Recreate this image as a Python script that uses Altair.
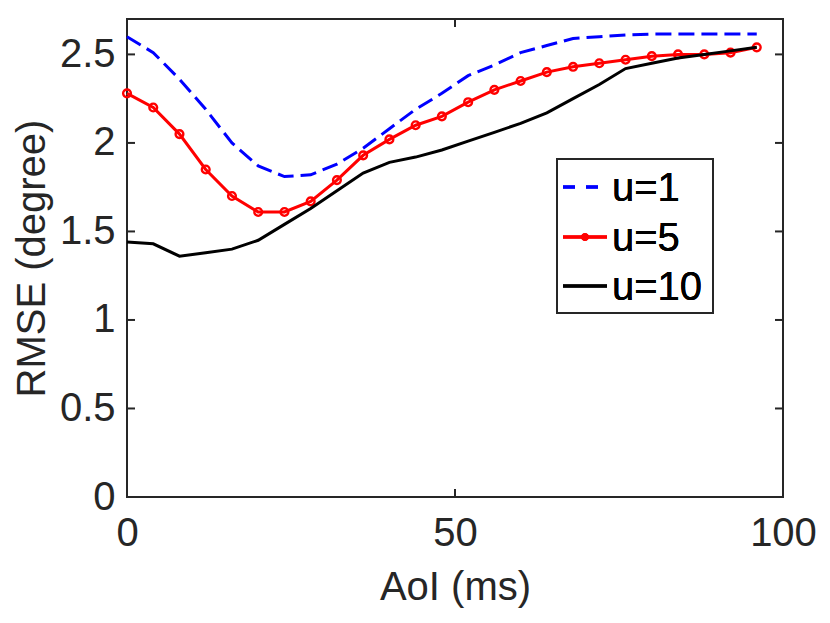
import altair as alt
import pandas as pd

aoi = [0, 4, 8, 12, 16, 20, 24, 28, 32, 36, 40, 44, 48, 52, 56, 60, 64, 68, 72, 76, 80, 84, 88, 92, 96]
u1 = [2.60, 2.51, 2.36, 2.19, 2.00, 1.87, 1.81, 1.82, 1.88, 1.97, 2.08, 2.19, 2.28, 2.38, 2.44, 2.51,
      2.55, 2.59, 2.60, 2.61, 2.615, 2.615, 2.615, 2.615, 2.615]
u5 = [2.28, 2.20, 2.05, 1.85, 1.70, 1.61, 1.61, 1.67, 1.79, 1.93, 2.02, 2.10, 2.15, 2.23, 2.30, 2.35,
      2.40, 2.43, 2.45, 2.47, 2.49, 2.50, 2.50, 2.51, 2.54]
u10 = [1.44, 1.43, 1.36, 1.38, 1.40, 1.45, 1.54, 1.63, 1.73, 1.83, 1.89, 1.92, 1.96, 2.01, 2.06, 2.11,
       2.17, 2.25, 2.33, 2.42, 2.45, 2.48, 2.50, 2.52, 2.54]
labels = ["u=1", "u=5", "u=10"]
y_ticks = [0, 0.5, 1, 1.5, 2, 2.5]
x_ticks = [0, 50, 100]

W, H = 656, 478
AX = "#262626"
FONT = "Liberation Sans"

d1 = pd.DataFrame({"x": aoi, "y": u1})
d5 = pd.DataFrame({"x": aoi, "y": u5})
d10 = pd.DataFrame({"x": aoi, "y": u10})
yt = pd.DataFrame({"v": y_ticks})
xt = pd.DataFrame({"v": x_ticks})

xs = alt.Scale(domain=[0, 100], nice=False)
ys = alt.Scale(domain=[0, 2.7], nice=False)

xax = alt.Axis(values=x_ticks, ticks=False, grid=False, domain=False, labelPadding=16, labelFlush=False,
               labelFontSize=40, titleFontSize=40, titleFontWeight="normal", titlePadding=14,
               labelColor=AX, titleColor=AX, labelFont=FONT, titleFont=FONT)
yax = alt.Axis(values=y_ticks, ticks=False, grid=False, domain=False, labelPadding=12, format=".1~f",
               labelFlush=False,
               labelFontSize=40, titleFontSize=40, titleFontWeight="normal", titlePadding=7,
               labelColor=AX, titleColor=AX, labelFont=FONT, titleFont=FONT)

base_x = alt.X("x:Q", scale=xs, axis=xax, title="AoI (ms)")
base_y = alt.Y("y:Q", scale=ys, axis=yax, title="RMSE (degree)")

line1 = alt.Chart(d1).mark_line(color="#0000FF", strokeWidth=3, strokeDash=[16, 7]).encode(x=base_x, y=base_y)
line5 = alt.Chart(d5).mark_line(color="#FF0000", strokeWidth=3).encode(x=base_x, y=base_y)
pts5 = alt.Chart(d5).mark_point(shape="circle", color="#FF0000", filled=False, size=60,
                                strokeWidth=2.4, opacity=1).encode(x=base_x, y=base_y)
line10 = alt.Chart(d10).mark_line(color="#000000", strokeWidth=3).encode(x=base_x, y=base_y)

# inward ticks on all four sides
tk = dict(color=AX, strokeWidth=2)
lt = alt.Chart(yt).mark_rule(**tk).encode(y=alt.Y("v:Q", scale=ys), x=alt.value(0), x2=alt.value(8))
rt = alt.Chart(yt).mark_rule(**tk).encode(y=alt.Y("v:Q", scale=ys), x=alt.value(W - 8), x2=alt.value(W))
bt = alt.Chart(xt).mark_rule(**tk).encode(x=alt.X("v:Q", scale=xs), y=alt.value(H), y2=alt.value(H - 8))
tt = alt.Chart(xt).mark_rule(**tk).encode(x=alt.X("v:Q", scale=xs), y=alt.value(0), y2=alt.value(8))

# legend
lx0, lx1, ly0, ly1 = 430, 586, 140, 294
rows = [168, 218, 267]
sx0, sx1, tx = 436, 480, 485
leg_src = pd.DataFrame({"label": labels})
box = alt.Chart(leg_src).mark_rect(fill="white", stroke=AX, strokeWidth=2).encode(
    x=alt.value(lx0), x2=alt.value(lx1), y=alt.value(ly0), y2=alt.value(ly1))
ls1 = alt.Chart(leg_src).mark_rule(color="#0000FF", strokeWidth=3, strokeDash=[12, 11]).encode(
    x=alt.value(sx0), x2=alt.value(sx1), y=alt.value(rows[0]))
ls5 = alt.Chart(leg_src).mark_rule(color="#FF0000", strokeWidth=3).encode(
    x=alt.value(sx0), x2=alt.value(sx1), y=alt.value(rows[1]))
lp5 = alt.Chart(leg_src).mark_point(shape="circle", color="#FF0000", filled=False, size=28,
                                    strokeWidth=2.2, opacity=1).encode(
    x=alt.value((sx0 + sx1) / 2), y=alt.value(rows[1]))
ls10 = alt.Chart(leg_src).mark_rule(color="#000000", strokeWidth=3).encode(
    x=alt.value(sx0), x2=alt.value(sx1), y=alt.value(rows[2]))
txt = []
for i, lab in enumerate(labels):
    txt.append(alt.Chart(leg_src).mark_text(align="left", baseline="middle", fontSize=40, font=FONT,
                                            color="#000000").encode(
        x=alt.value(tx), y=alt.value(rows[i] + 2), text=alt.value(lab)))

chart = alt.layer(line1, line5, pts5, line10, lt, rt, bt, tt, box, ls1, ls5, lp5, ls10, *txt).properties(
    width=W, height=H,
    autosize=alt.AutoSizeParams(type="none"),
    padding={"left": 119, "top": 11, "right": 39, "bottom": 118},
    background="white",
).configure_view(stroke=AX, strokeWidth=2)

chart.save("out.html", embed_options={"renderer": "svg", "actions": False})
